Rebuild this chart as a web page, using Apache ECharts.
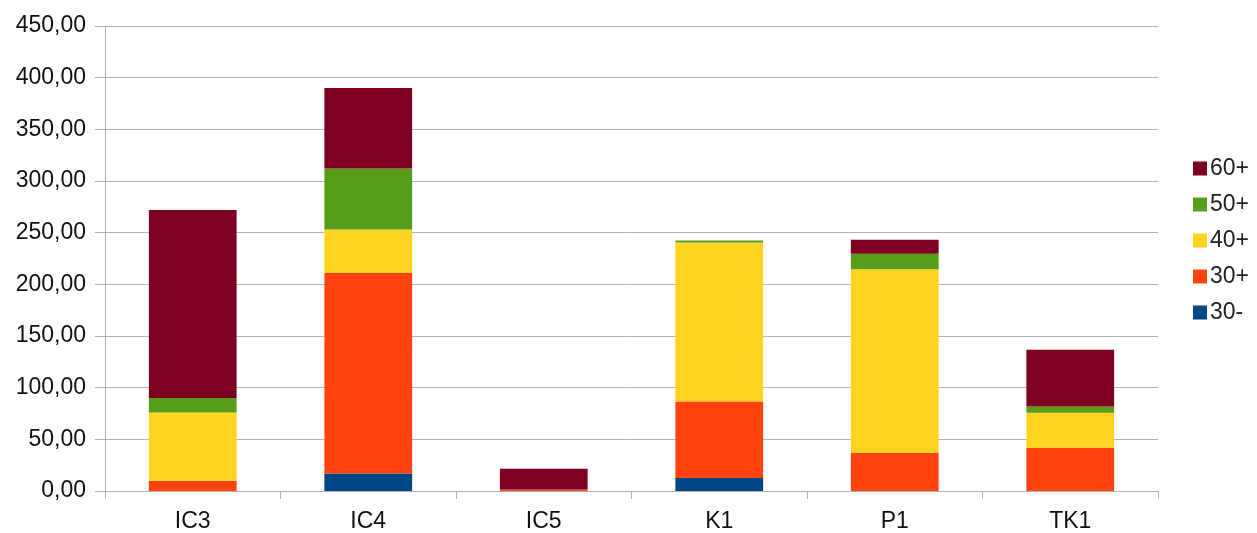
<!DOCTYPE html>
<html>
<head>
<meta charset="utf-8">
<script src="https://cdn.jsdelivr.net/npm/echarts@6/dist/echarts.min.js"></script>
<style>html,body{margin:0;padding:0;background:#fff}#c{width:1257px;height:533px}</style>
</head>
<body>
<div id="c"></div>
<script>
const categories = ['IC3', 'IC4', 'IC5', 'K1', 'P1', 'TK1'];
const s30minus = [0, 17, 0, 12.5, 0, 0];
const s30plus = [10, 194, 1.5, 74, 36.7, 41.8];
const s40plus = [66, 42, 0, 154, 178, 34];
const s50plus = [14, 59, 0, 2, 15, 6];
const s60plus = [182, 78, 20, 0, 13.5, 55];
const yTicks = { min: 0, max: 450, interval: 50 };

const chart = echarts.init(document.getElementById('c'));
const font = 'Liberation Sans, Arial, sans-serif';
function bar(name, data, color) {
  return { name, type: 'bar', stack: 'total', data, barWidth: '50%',
    itemStyle: { color }, emphasis: { disabled: true } };
}
chart.setOption({
  animation: false,
  grid: { left: 105, right: 99, top: 26, bottom: 41 },
  legend: {
    orient: 'vertical', left: 1188, top: 152,
    data: ['60+', '50+', '40+', '30+', '30-'],
    itemWidth: 14, itemHeight: 14, itemGap: 13,
    icon: 'rect',
    textStyle: { fontFamily: font, fontSize: 23, lineHeight: 22, color: '#222', padding: [0, 0, 0, -2] }
  },
  xAxis: {
    type: 'category', data: categories,
    axisLine: { lineStyle: { color: '#b3b3b3', width: 1 } },
    axisTick: { show: true, length: 8, lineStyle: { color: '#b3b3b3' } },
    axisLabel: { fontFamily: font, fontSize: 23, color: '#111', margin: 19 }
  },
  yAxis: {
    type: 'value', min: yTicks.min, max: yTicks.max, interval: yTicks.interval,
    axisLine: { show: true, lineStyle: { color: '#b3b3b3', width: 1 } },
    axisTick: { show: true, length: 10, lineStyle: { color: '#b3b3b3' } },
    splitLine: { lineStyle: { color: '#b3b3b3', width: 1 } },
    axisLabel: { fontFamily: font, fontSize: 23, color: '#111', margin: 19,
      formatter: v => v.toFixed(2).replace('.', ',') }
  },
  series: [
    bar('30-', s30minus, '#004586'),
    bar('30+', s30plus, '#ff420e'),
    bar('40+', s40plus, '#ffd320'),
    bar('50+', s50plus, '#579d1c'),
    bar('60+', s60plus, '#7e0021')
  ]
});
</script>
</body>
</html>
